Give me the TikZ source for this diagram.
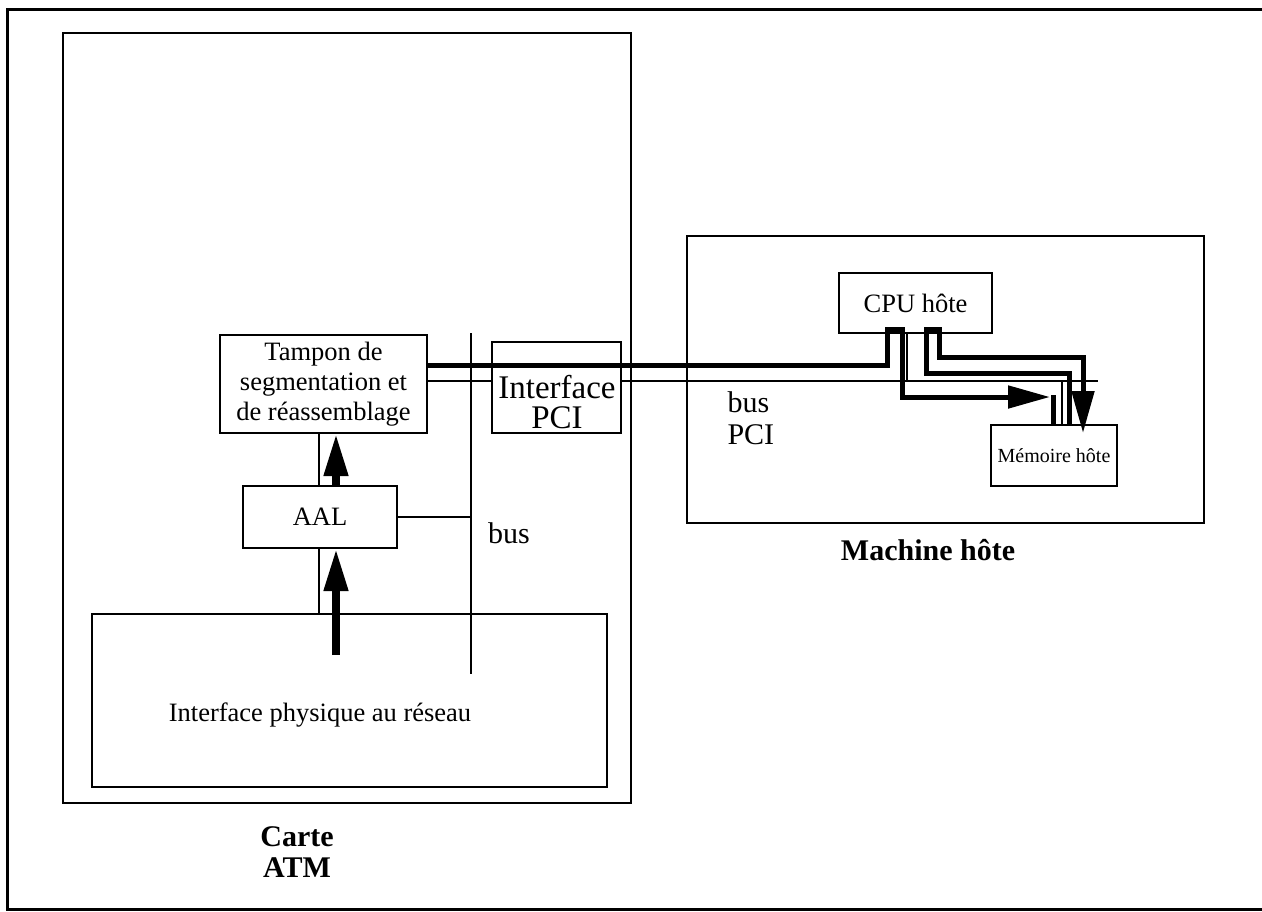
\documentclass[tikz,border=0pt]{standalone}
\usepackage{fontspec}
\setmainfont{Liberation Serif}
\usepackage{tikz}
\usepackage{xcolor}
\usetikzlibrary{arrows.meta}
\usetikzlibrary{shapes}

\tikzset{
  box/.style={draw, line width=2pt, inner sep=0pt},
  txt/.style={font=\fontsize{26.5}{30}\selectfont, align=center},
  thinline/.style={line width=2pt},
  fat/.style={line width=5pt},
  fatup/.style={line width=7.5pt, -{Triangle[width=23pt,length=42pt]}},
  fatarrow/.style={line width=5pt, -{Triangle[width=22pt,length=42pt]}},
  title/.style={font=\fontsize{30}{31}\selectfont\bfseries, align=center}
}

\begin{document}
\begin{tikzpicture}[x=1pt, y=-1pt]
\useasboundingbox (0,0) rectangle (1262,911);
\draw [line width=3pt] (7,9) rectangle (1264,909);

% carte ATM
\node [box, minimum width=568pt, minimum height=770pt] (atm)
       at (347,418) {};
\node [box, minimum width=207pt, minimum height=98pt, txt] (tampon)
       at (323.5,384) {Tampon de\\segmentation et\\de réassemblage};
\node [box, minimum width=154pt, minimum height=62pt, txt] (aal)
       at (320,517) {AAL};
\node [box, minimum width=515pt, minimum height=173pt] (phys)
       at (349.5,700.5) {};
\node [txt] (physlabel) at (320,715) {Interface physique au réseau};
\node [title] (atmlabel) at (297,852) {Carte\\ATM};

% machine hote
\node [box, minimum width=517pt, minimum height=287pt] (machine)
       at (945.5,379.5) {};
\node [box, minimum width=153pt, minimum height=60pt, txt] (cpu)
       at (915.5,303) {CPU hôte};
\node [box, minimum width=126pt, minimum height=61pt, txt,
       font=\fontsize{20}{24}\selectfont] (mem)
       at (1054,455.5) {Mémoire hôte};
\node [title] (machinelabel) at (928,550) {Machine hôte};

% bus interne
\coordinate (bustop) at (471,333);
\coordinate (busbot) at (471,674);
\draw [thinline] (bustop) -- (busbot);
\draw [thinline] (aal.east) -- (aal.east -| bustop);
\node [font=\fontsize{30}{32}\selectfont] (buslabel) at (509,533) {bus};
\draw [thinline] ([xshift=-1pt]aal.north) -- ([xshift=-1pt]aal.north |- tampon.south);
\draw [thinline] ([xshift=-1pt]aal.south) -- ([xshift=-1pt]aal.south |- phys.north);
\draw [fatup] ([xshift=16pt]aal.north) -- ([xshift=16pt]aal.north |- tampon.south);
\draw [fatup] (336,655) -- ([xshift=16pt]aal.south);

% bus PCI
\coordinate (pciend) at (1098,381);
\draw [thinline] (tampon.east |- pciend) -- (pciend);
\draw [thinline] (907,0 |- cpu.south) -- (907,381);
\draw [thinline] (1062,381) -- (1062,0 |- mem.north);
\node [box, fill=white, minimum width=129pt, minimum height=91pt] (pci)
       at (556.5,387.5) {};
\node [font=\fontsize{33}{30}\selectfont, align=center] (pcilabel)
       at (557,402) {Interface\\PCI};
\node [font=\fontsize{30}{32}\selectfont, align=left, anchor=west] (pcibuslabel)
       at (724,418) {bus\\PCI};

% transferts vers la memoire
\draw [fatarrow] (tampon.east |- 0,365) -- (887,365) -- (887,329) -- (902,329)
       -- (902,397) -- (1050,397);
\draw [fat] (1053,395) -- (1053,0 |- mem.north);
\draw [fatarrow] (1069,0 |- mem.north) -- (1069,373) -- (926,373) -- (926,329)
       -- (939,329) -- (939,357) -- (1083,357) -- (1083,433);
\end{tikzpicture}
\end{document}
